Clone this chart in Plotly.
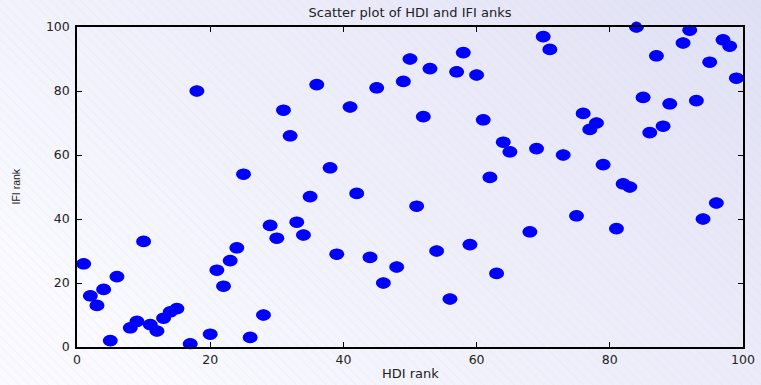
import urllib.parse
import plotly.graph_objects as go

hdi_rank = [1, 2, 3, 4, 5, 6, 8, 9, 10, 11, 12, 13, 14, 15, 17, 18, 20, 21, 22, 23,
            24, 25, 26, 28, 29, 30, 31, 32, 33, 34, 35, 36, 38, 39, 41, 42, 44, 45, 46, 48,
            49, 50, 51, 52, 53, 54, 56, 57, 58, 59, 60, 61, 62, 63, 64, 65, 68, 69, 70, 71,
            73, 75, 76, 77, 78, 79, 81, 82, 83, 84, 85, 86, 87, 88, 89, 91, 92, 93, 94, 95,
            96, 97, 98, 99]
ifi_rank = [26, 16, 13, 18, 2, 22, 6, 8, 33, 7, 5, 9, 11, 12, 1, 80, 4, 24, 19, 27,
            31, 54, 3, 10, 38, 34, 74, 66, 39, 35, 47, 82, 56, 29, 75, 48, 28, 81, 20, 25,
            83, 90, 44, 72, 87, 30, 15, 86, 92, 32, 85, 71, 53, 23, 64, 61, 36, 62, 97, 93,
            60, 41, 73, 68, 70, 57, 37, 51, 50, 100, 78, 67, 91, 69, 76, 95, 99, 77, 40, 89,
            45, 96, 94, 84]
tick_vals = [0, 20, 40, 60, 80, 100]

title_text = "Scatter plot of HDI and IFI anks"
x_title = "HDI rank"
y_title = "IFI rank"

W, H = 761, 385
ML, MR, MT, MB = 77, 18, 27, 38
PW, PH = W - ML - MR, H - MT - MB
WIDE = "DejaVu Sans, Verdana, sans-serif"
NARROW = "Liberation Sans, Arial, sans-serif"

svg = (
    '<svg xmlns="http://www.w3.org/2000/svg" width="761" height="385" viewBox="0 0 761 385" '
    'preserveAspectRatio="none"><defs>'
    '<linearGradient id="g" x1="0" y1="0.6" x2="1" y2="0">'
    '<stop offset="0" stop-color="#f9f9ff"/><stop offset="1" stop-color="#e0e0f5"/></linearGradient>'
    '<pattern id="p" width="7" height="7" patternUnits="userSpaceOnUse" patternTransform="rotate(-45)">'
    '<line x1="0" y1="0" x2="0" y2="7" stroke="#c8c8e0" stroke-width="1" stroke-opacity="0.25"/></pattern>'
    '</defs><rect width="761" height="385" fill="url(#g)"/><rect width="761" height="385" fill="url(#p)"/></svg>'
)
bg_src = "data:image/svg+xml;charset=utf-8," + urllib.parse.quote(svg)

fig = go.Figure()
fig.add_trace(go.Scatter(
    x=hdi_rank, y=ifi_rank, mode="markers",
    marker=dict(color="#0000ff", size=11, line=dict(width=0)),
    cliponaxis=False, showlegend=False,
))

shapes = []
for xv, yv in zip(hdi_rank, ifi_rank):
    shapes.append(dict(
        type="circle", xref="x", yref="y", xsizemode="pixel", ysizemode="pixel",
        xanchor=xv, yanchor=yv, x0=-7.5, x1=7.5, y0=-5.8, y1=5.8,
        fillcolor="#0000ff", line=dict(width=0), layer="above",
    ))

axis_common = dict(
    range=[0, 100], tickvals=tick_vals, ticks="inside", ticklen=5, tickwidth=1,
    tickcolor="black", showline=True, linecolor="black", linewidth=1.5,
    mirror="ticks", showgrid=False, zeroline=False,
    tickfont=dict(family=WIDE, size=12.5, color="#222222"),
)

fig.update_layout(
    width=W, height=H,
    margin=dict(l=ML, r=MR, t=MT, b=MB, autoexpand=False),
    paper_bgcolor="white", plot_bgcolor="rgba(0,0,0,0)",
    xaxis=axis_common, yaxis=dict(axis_common, ticklabelstandoff=3),
    shapes=shapes,
    title=dict(text=title_text, x=0.5, xref="paper", xanchor="center",
               y=1 - 12 / H, yref="container", yanchor="middle",
               font=dict(family=WIDE, size=13, color="#222222")),
    images=[dict(source=bg_src, xref="paper", yref="paper",
                 x=-ML / PW, y=1 + MT / PH, sizex=W / PW, sizey=H / PH,
                 xanchor="left", yanchor="top", sizing="stretch", layer="below")],
    annotations=[
        dict(text=x_title, xref="paper", yref="paper", x=0.5, y=-(373 - 347) / PH,
             showarrow=False, xanchor="center", yanchor="middle",
             font=dict(family=WIDE, size=13, color="#222222")),
        dict(text=y_title, xref="paper", yref="paper", x=-(77 - 15.5) / PW, y=(347 - 187) / PH,
             showarrow=False, xanchor="center", yanchor="middle", textangle=-90,
             font=dict(family=NARROW, size=10.5, color="#222222")),
    ],
)

fig.write_html("out.html", config={"displayModeBar": False},
               post_script="document.body.style.margin='0';document.body.style.overflow='hidden';")
